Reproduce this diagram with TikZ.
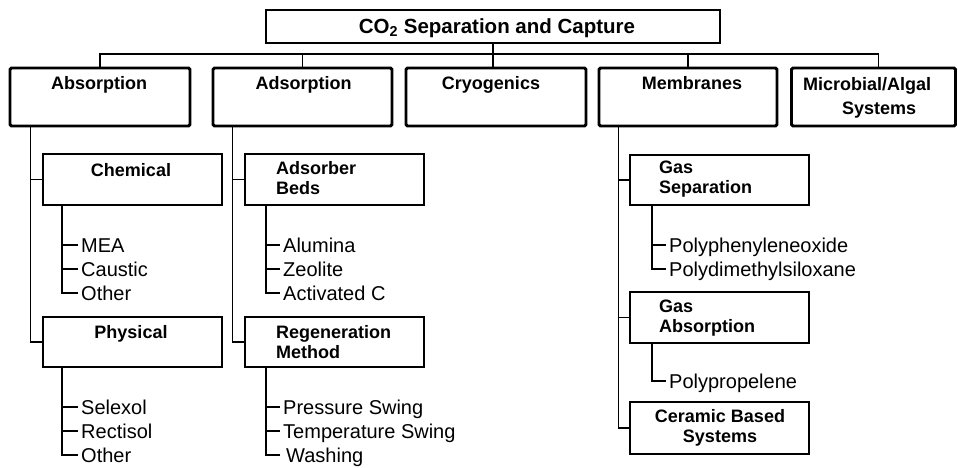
\documentclass[tikz,border=0pt]{standalone}
\usepackage{fontspec}
\setmainfont{Liberation Sans}
\begin{document}
\begin{tikzpicture}[x=1pt,y=-1pt,
  conn/.style={line width=1.6pt},
  topbox/.style={draw, line width=2.9pt, rounded corners=1.5pt, inner sep=0pt},
  subbox/.style={draw, line width=2pt, inner sep=0pt},
  titlebox/.style={draw, line width=1.5pt, inner sep=0pt},
  blbl/.style={font=\fontsize{18}{20}\selectfont\bfseries, inner sep=0pt},
  item/.style={font=\fontsize{20}{24}\selectfont, inner xsep=3pt, inner ysep=0pt, text height=14.3pt, text depth=0pt, anchor=west}]
\useasboundingbox (0,0) rectangle (958,468);

% title
\node[titlebox, minimum width=454pt, minimum height=33pt] (title) at (493,26.5) {};
\node[blbl, font=\fontsize{20.5}{22}\selectfont\bfseries, anchor=base] (titleL) at (497,33.3) {CO\textsubscript{2} Separation and Capture};

% top level boxes
\node[topbox, minimum width=180pt, minimum height=58pt] (abs) at (100,97) {};
\node[topbox, minimum width=179pt, minimum height=58pt] (ads) at (302.5,97) {};
\node[topbox, minimum width=180pt, minimum height=58pt] (cryo) at (496,97) {};
\node[topbox, minimum width=178pt, minimum height=58pt] (mem) at (688,97) {};
\node[topbox, minimum width=164pt, minimum height=58pt] (micro) at (873.5,97) {};

\node[blbl, anchor=base] (absL) at (99,89.5) {Absorption};
\node[blbl, anchor=base] (adsL) at (303.5,89.5) {Adsorption};
\node[blbl, anchor=base] (cryoL) at (491,89.5) {Cryogenics};
\node[blbl, anchor=base] (memL) at (692,89.5) {Membranes};
\node[blbl, font=\fontsize{18}{24}\selectfont\bfseries, anchor=north west, align=left] (microL) at (803,77) {Microbial/Algal\\\hspace*{39pt}Systems};

% sub boxes
\node[subbox, minimum width=179pt, minimum height=51pt] (chem) at (132.5,179.5) {};
\node[subbox, minimum width=179pt, minimum height=50pt] (phys) at (132.5,342) {};
\node[subbox, minimum width=179pt, minimum height=51pt] (bed) at (334.5,179.5) {};
\node[subbox, minimum width=179pt, minimum height=50pt] (regen) at (334.5,342) {};
\node[subbox, minimum width=179pt, minimum height=50pt] (gsep) at (719.5,180) {};
\node[subbox, minimum width=179pt, minimum height=51pt] (gabs) at (719.5,317.5) {};
\node[subbox, minimum width=179pt, minimum height=52pt] (cer) at (719.5,428) {};

\node[blbl, anchor=base] (chemL) at (131,176) {Chemical};
\node[blbl, anchor=base] (physL) at (131,338.5) {Physical};
\node[blbl, anchor=north west, align=left] (bedL) at (276,161) {Adsorber\\Beds};
\node[blbl, anchor=north west, align=left] (regenL) at (276,325) {Regeneration\\Method};
\node[blbl, anchor=north west, align=left] (gsepL) at (659,161) {Gas\\Separation};
\node[blbl, anchor=north west, align=left] (gabsL) at (659,300) {Gas\\Absorption};
\node[blbl, anchor=north, align=center] (cerL) at (720,409) {Ceramic Based\\Systems};

% leaf items
\node[item] (mea) at (78,245) {MEA};
\node[item] (caustic) at (78,269) {Caustic};
\node[item] (othera) at (78,293) {Other};
\node[item] (selexol) at (78,407) {Selexol};
\node[item] (rectisol) at (78,431) {Rectisol};
\node[item] (otherb) at (78,455) {Other};
\node[item] (alumina) at (280,245) {Alumina};
\node[item] (zeolite) at (280,269) {Zeolite};
\node[item] (actc) at (280,293) {Activated C};
\node[item] (pswing) at (280,407) {Pressure Swing};
\node[item] (tswing) at (280,431) {Temperature Swing};
\node[item, inner xsep=6pt] (washing) at (280,455) {Washing};
\node[item] (ppo) at (666,245) {Polyphenyleneoxide};
\node[item] (pdms) at (666,269) {Polydimethylsiloxane};
\node[item] (pp) at (666,381) {Polypropelene};

% top connectors
\coordinate (bus) at (493,54);
\draw[conn] (abs.north) |- (bus) -| ([xshift=5pt]micro.north);
\draw[conn] (title.south) -- (title.south |- cryo.north);
\draw[conn] (ads.north) -- (ads.north |- bus);
\draw[conn] (mem.north) -- (mem.north |- bus);

% second level connectors
\coordinate (absv) at ([xshift=22pt]abs.south west);
\draw[conn] (absv) |- (phys.west);
\draw[conn] (chem.west) -- (chem.west -| absv);
\coordinate (adsv) at ([xshift=21pt]ads.south west);
\draw[conn] (adsv) |- (regen.west);
\draw[conn] (bed.west) -- (bed.west -| adsv);
\coordinate (memv) at ([xshift=21pt]mem.south west);
\draw[conn] (memv) |- (cer.west);
\draw[conn] (gsep.west) -- (gsep.west -| memv);
\draw[conn] (gabs.west) -- (gabs.west -| memv);

% leaf connectors
\coordinate (chemv) at ([xshift=20pt]chem.south west);
\draw[conn] (chemv) |- (othera.west);
\draw[conn] (mea.west -| chemv) -- (mea.west);
\draw[conn] (caustic.west -| chemv) -- (caustic.west);
\coordinate (physv) at ([xshift=20pt]phys.south west);
\draw[conn] (physv) |- (otherb.west);
\draw[conn] (selexol.west -| physv) -- (selexol.west);
\draw[conn] (rectisol.west -| physv) -- (rectisol.west);
\coordinate (bedv) at ([xshift=22pt]bed.south west);
\draw[conn] (bedv) |- (actc.west);
\draw[conn] (alumina.west -| bedv) -- (alumina.west);
\draw[conn] (zeolite.west -| bedv) -- (zeolite.west);
\coordinate (regenv) at ([xshift=22pt]regen.south west);
\draw[conn] (regenv) |- (washing.west);
\draw[conn] (pswing.west -| regenv) -- (pswing.west);
\draw[conn] (tswing.west -| regenv) -- (tswing.west);
\coordinate (gsepv) at ([xshift=23pt]gsep.south west);
\draw[conn] (gsepv) |- (pdms.west);
\draw[conn] (ppo.west -| gsepv) -- (ppo.west);
\coordinate (gabsv) at ([xshift=23pt]gabs.south west);
\draw[conn] (gabsv) |- (pp.west);
\end{tikzpicture}
\end{document}
